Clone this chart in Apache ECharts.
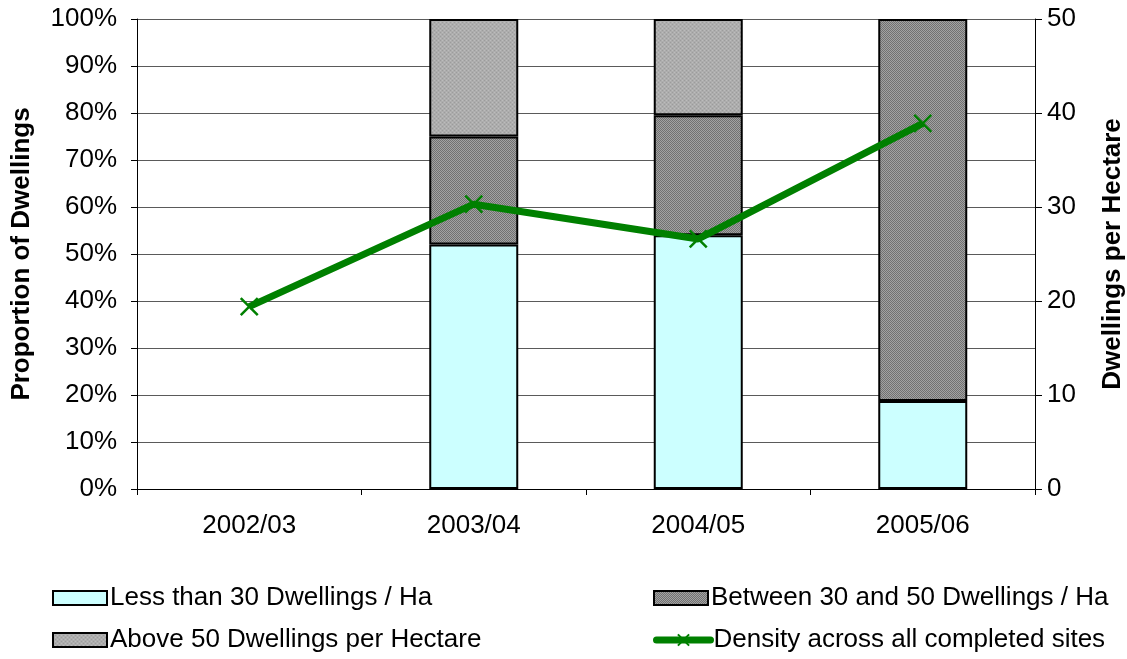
<!DOCTYPE html>
<html>
<head>
<meta charset="utf-8">
<script src="https://cdn.jsdelivr.net/npm/echarts@6/dist/echarts.min.js"></script>
<style>
  html, body { margin: 0; padding: 0; background: #fff; }
  #chart { width: 1127px; height: 659px; }
</style>
</head>
<body>
<div id="chart"></div>
<script>
// Years of completion
const categories = ['2002/03', '2003/04', '2004/05', '2005/06'];
// Share of dwellings in each density band (%)
const lessThan30 = [null, 52, 54, 18.7];
const between30and50 = [null, 23, 25.5, 81.3];
const above50 = [null, 25, 20.5, null];
// Average density across all completed sites (dwellings per hectare)
const density = [19.4, 30.3, 26.6, 38.9];

const leftTicks = { min: 0, max: 100, interval: 10 };
const rightTicks = { min: 0, max: 50, interval: 10 };

const FONT = '"Liberation Sans", Arial, sans-serif';
const FS = 26;

// Fine textured fills for the grey bands
function makePattern(draw, size) {
  const c = document.createElement('canvas');
  c.width = size; c.height = size;
  const ctx = c.getContext('2d');
  draw(ctx, size);
  return { image: c, repeat: 'repeat' };
}
const dottedGrey = makePattern((ctx, s) => {
  ctx.fillStyle = '#adadad';
  ctx.fillRect(0, 0, s, s);
  ctx.fillStyle = '#9c9c9c';
  ctx.fillRect(0, 0, 1, 1);
  ctx.fillRect(2, 2, 1, 1);
  ctx.fillStyle = '#bcbcbc';
  ctx.fillRect(2, 0, 1, 1);
  ctx.fillRect(0, 2, 1, 1);
}, 4);
const hatchedGrey = makePattern((ctx, s) => {
  ctx.fillStyle = '#a2a2a2';
  ctx.fillRect(0, 0, s, s);
  ctx.fillStyle = '#717171';
  for (let i = 0; i < s; i++) {
    ctx.fillRect(i % s, i, 1, 1);
    ctx.fillRect((i + 2) % s, i, 1, 1);
  }
}, 4);

const barBorder = { borderColor: '#000', borderWidth: 2 };

// One legend block per entry, laid out as a 2 x 2 table under the plot
function legendBlock(name, left, top, extra) {
  return Object.assign({
    left: left, top: top,
    orient: 'horizontal',
    icon: 'rect',
    itemWidth: 54, itemHeight: 14,
    padding: 0,
    textStyle: { fontSize: FS, color: '#000', fontFamily: FONT, padding: [0, 0, 0, -2] },
    data: [name]
  }, extra || {});
}

const chart = echarts.init(document.getElementById('chart'), null, { renderer: 'canvas' });

chart.setOption({
  animation: false,
  textStyle: { fontFamily: FONT },
  grid: { left: 137, right: 92, top: 19, bottom: 170, containLabel: false, outerBoundsMode: 'none' },
  legend: [
    legendBlock('Less than 30 Dwellings / Ha', 52, 585),
    legendBlock('Above 50 Dwellings per Hectare', 52, 627),
    legendBlock('Between 30 and 50 Dwellings / Ha', 653, 585),
    legendBlock('Density across all completed sites', 653, 627, {
      icon: null,
      data: [{ name: 'Density across all completed sites', lineStyle: { width: 7, cap: 'round' } }]
    })
  ],
  xAxis: {
    type: 'category',
    data: categories,
    boundaryGap: true,
    axisLine: { lineStyle: { color: '#000', width: 1 } },
    axisTick: { show: true, interval: 0, length: 6, lineStyle: { color: '#000' } },
    axisLabel: { fontSize: FS, color: '#000', margin: 24, fontFamily: FONT }
  },
  yAxis: [
    {
      type: 'value',
      min: leftTicks.min, max: leftTicks.max, interval: leftTicks.interval,
      name: 'Proportion of Dwellings',
      nameLocation: 'middle',
      nameGap: 102,
      nameTextStyle: { fontSize: FS, fontWeight: 'bold', color: '#000', fontFamily: FONT },
      axisLine: { show: true, lineStyle: { color: '#000' } },
      axisTick: { show: true, length: 6, lineStyle: { color: '#000' } },
      axisLabel: { formatter: '{value}%', fontSize: FS, color: '#000', margin: 20, fontFamily: FONT },
      splitLine: { show: true, lineStyle: { color: '#5a5a5a', width: 1 } }
    },
    {
      type: 'value',
      position: 'right',
      min: rightTicks.min, max: rightTicks.max, interval: rightTicks.interval,
      name: 'Dwellings per Hectare',
      nameLocation: 'middle',
      nameGap: 65,
      nameRotate: 90,
      nameTextStyle: { fontSize: FS, fontWeight: 'bold', color: '#000', fontFamily: FONT },
      axisLine: { show: true, lineStyle: { color: '#000' } },
      axisTick: { show: true, length: 7, lineStyle: { color: '#000' } },
      axisLabel: { fontSize: FS, color: '#000', margin: 12, fontFamily: FONT },
      splitLine: { show: false }
    }
  ],
  series: [
    {
      name: 'Less than 30 Dwellings / Ha',
      type: 'bar', stack: 'share', yAxisIndex: 0,
      barWidth: 89,
      itemStyle: Object.assign({ color: '#ccffff' }, barBorder),
      data: lessThan30
    },
    {
      name: 'Between 30 and 50 Dwellings / Ha',
      type: 'bar', stack: 'share', yAxisIndex: 0,
      barWidth: 89,
      itemStyle: Object.assign({ color: hatchedGrey }, barBorder),
      data: between30and50
    },
    {
      name: 'Above 50 Dwellings per Hectare',
      type: 'bar', stack: 'share', yAxisIndex: 0,
      barWidth: 89,
      itemStyle: Object.assign({ color: dottedGrey }, barBorder),
      data: above50
    },
    {
      name: 'Density across all completed sites',
      type: 'line', yAxisIndex: 1,
      z: 5,
      symbol: 'path://M0,0L10,10M10,0L0,10',
      symbolSize: 17,
      showAllSymbol: true,
      lineStyle: { color: '#008000', width: 7 },
      itemStyle: { color: 'rgba(0,0,0,0)', borderColor: '#008000', borderWidth: 2.5 },
      data: density
    }
  ]
});
</script>
</body>
</html>
